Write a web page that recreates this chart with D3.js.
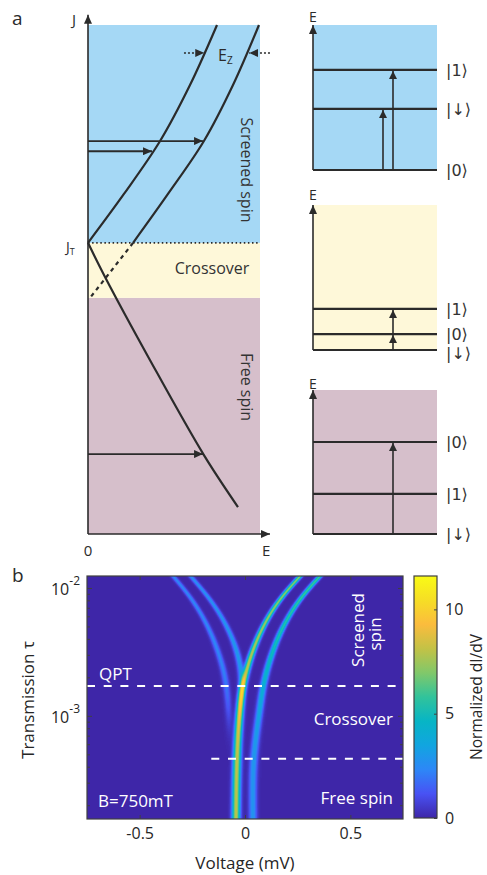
<!DOCTYPE html>
<html>
<head>
<meta charset="utf-8">
<script src="https://cdn.jsdelivr.net/npm/d3@7"></script>
<style>
  body { margin: 0; background: #fff; }
  text { font-family: "Open Sans", "Noto Sans", sans-serif; }
</style>
</head>
<body>
<div id="fig"></div>
<script>
// ---------- data: panel a (schematic, E / J in arbitrary units) ----------
const regionNames  = ["Free spin", "Crossover", "Screened spin"];
const regionBounds = [0, 0.464, 0.572, 1.0];          // J limits of the three regimes
const jT = 0.572;

const screenedLow  = [[0, 0.572], [0.209, 0.668], [0.419, 0.772], [0.593, 0.882], [0.750, 1.0]];
const screenedHigh = [[0.262, 0.572], [0.465, 0.668], [0.674, 0.772], [0.843, 0.882], [0.994, 1.0]];
const crossoverDash = [[0.262, 0.572], [0.012, 0.464]];
const freeSpinLine = [[0, 0.572], [0.099, 0.505], [0.360, 0.342], [0.674, 0.155], [0.872, 0.053]];
const excitations  = [[0.772, 0.669], [0.752, 0.372], [0.157, 0.669]];   // [J, E reached]

// level diagrams (energy as fraction of the box height)
const levelLabels = [["|0⟩", "|↓⟩", "|1⟩"], ["|↓⟩", "|0⟩", "|1⟩"], ["|↓⟩", "|1⟩", "|0⟩"]];
const levelEnergy = [[0, 0.421, 0.69], [0, 0.11, 0.283], [0, 0.278, 0.639]];
const transitions = [[[0, 0.421], [0, 0.69]], [[0, 0.11], [0.11, 0.283]], [[0, 0.639]]];

// ---------- data: panel b (ridges, rows every 0.15 decade) ----------
const tauLog = [-1.9, -2.05, -2.2, -2.35, -2.5, -2.65, -2.8, -2.95, -3.1, -3.25, -3.4, -3.55, -3.7, -3.85];
const ridgeA = [0.266, 0.183, 0.119, 0.071, 0.034, 0.006, -0.015, -0.024, -0.031, -0.036, -0.039, -0.041, -0.042, -0.043];
const ampA   = [7.0, 7.0, 7.2, 7.4, 7.7, 8.0, 8.6, 9.0, 8.6, 8.2, 8.0, 8.0, 8.0, 8.0];
const ridgeB = [0.36, 0.277, 0.214, 0.166, 0.13, 0.102, 0.082, 0.07, 0.057, 0.046, 0.039, 0.037, 0.037, 0.038];
const ampB   = [6.0, 5.8, 5.6, 5.3, 5.0, 4.6, 4.1, 3.6, 3.2, 3.0, 2.9, 2.8, 2.8, 2.8];
const ridgeC = [-0.262, -0.183, -0.119, -0.071, -0.036, -0.018, -0.015, -0.024, -0.031, -0.036, -0.039, -0.041, -0.042, -0.043];
const ampC   = [2.5, 2.6, 2.7, 2.8, 3.0, 3.0, 2.2, 0.6, 0, 0, 0, 0, 0, 0];
const ridgeD = [-0.345, -0.268, -0.208, -0.162, -0.127, -0.1, -0.085, -0.079, -0.074, -0.071, -0.07, -0.07, -0.07, -0.07];
const ampD   = [2.3, 2.3, 2.3, 2.3, 2.3, 2.2, 1.9, 1.2, 0.4, 0, 0, 0, 0, 0];
const widthRows = [0.009, 0.009, 0.009, 0.0095, 0.01, 0.0105, 0.011, 0.0115, 0.012, 0.0125, 0.013, 0.013, 0.013, 0.013];

const tauQPT = 1.71e-3, tauFree = 4.61e-4;
const xTicks = [-0.5, 0, 0.5];
const yMajor = [1e-3, 1e-2];
const cbTicks = [0, 5, 10];
const zMax = 11.6;

const parulaStops  = [0, 0.1, 0.2, 0.3, 0.4, 0.5, 0.6, 0.7, 0.8, 0.9, 1];
const parulaColors = ["#3e26a8", "#4852f4", "#2d87f7", "#11a5e0", "#07b5c5", "#31c39b",
                      "#81c86a", "#c3c246", "#fbbc3d", "#f6de25", "#f9fb15"];

// ---------- setup ----------
const ink = "#2b2b2b";
const svg = d3.select("#fig").append("svg").attr("width", 487).attr("height", 875);
const defs = svg.append("defs");

function marker(id, len, wid) {
  defs.append("marker").attr("id", id)
    .attr("viewBox", "0 0 10 10").attr("preserveAspectRatio", "none")
    .attr("refX", 10).attr("refY", 5)
    .attr("markerWidth", len).attr("markerHeight", wid)
    .attr("markerUnits", "userSpaceOnUse").attr("orient", "auto")
    .append("path").attr("d", "M0,0L10,5L0,10Z").attr("fill", ink);
}
marker("axHead", 9, 8);
marker("hHead", 9, 8);
marker("vHead", 8, 8);

// ---------- panel a, left ----------
const xA = d3.scaleLinear().domain([0, 1]).range([88, 260]);
const yA = d3.scaleLinear().domain([0, 1]).range([534, 25]);
const regionColors = ["#d6bfcb", "#fef8d9", "#a5d8f5"];

const gA = svg.append("g");
gA.selectAll("rect.region").data(regionNames).join("rect")
  .attr("x", xA(0)).attr("width", xA(1) - xA(0))
  .attr("y", (d, i) => yA(regionBounds[i + 1]))
  .attr("height", (d, i) => yA(regionBounds[i]) - yA(regionBounds[i + 1]))
  .attr("fill", (d, i) => regionColors[i]);

gA.append("line").attr("x1", xA(0)).attr("x2", xA(1)).attr("y1", yA(jT)).attr("y2", yA(jT))
  .attr("stroke", ink).attr("stroke-width", 1.6).attr("stroke-dasharray", "1.5,2.6");

const lineA = d3.line().x(d => xA(d[0])).y(d => yA(d[1])).curve(d3.curveCatmullRom);
[screenedLow, screenedHigh, freeSpinLine].forEach(pts => {
  gA.append("path").attr("d", lineA(pts)).attr("fill", "none")
    .attr("stroke", ink).attr("stroke-width", 2.2);
});
gA.append("path").attr("d", lineA(crossoverDash)).attr("fill", "none")
  .attr("stroke", ink).attr("stroke-width", 2.2).attr("stroke-dasharray", "4,4");

excitations.forEach(([j, e]) => {
  gA.append("line").attr("x1", xA(0)).attr("x2", xA(e)).attr("y1", yA(j)).attr("y2", yA(j))
    .attr("stroke", ink).attr("stroke-width", 1.8).attr("marker-end", "url(#hHead)");
});

// axes
gA.append("line").attr("x1", xA(0)).attr("x2", xA(0)).attr("y1", yA(0)).attr("y2", yA(1.02))
  .attr("stroke", ink).attr("stroke-width", 1.6).attr("marker-end", "url(#axHead)");
gA.append("line").attr("x1", xA(0)).attr("x2", xA(1.058)).attr("y1", yA(0)).attr("y2", yA(0))
  .attr("stroke", ink).attr("stroke-width", 1.6).attr("marker-end", "url(#axHead)");

// Zeeman markers
const jZ = 0.945;
gA.append("line").attr("x1", xA(0.558)).attr("x2", xA(0.676)).attr("y1", yA(jZ)).attr("y2", yA(jZ))
  .attr("stroke", ink).attr("stroke-width", 1.6).attr("stroke-dasharray", "2,2").attr("marker-end", "url(#hHead)");
gA.append("line").attr("x1", xA(1.058)).attr("x2", xA(0.937)).attr("y1", yA(jZ)).attr("y2", yA(jZ))
  .attr("stroke", ink).attr("stroke-width", 1.6).attr("stroke-dasharray", "2,2").attr("marker-end", "url(#hHead)");
const ez = gA.append("text").attr("x", 218).attr("y", 61).attr("font-size", 16).attr("fill", ink);
ez.append("tspan").text("E");
ez.append("tspan").attr("font-size", 10).attr("dy", 3).text("Z");

// labels
gA.append("text").attr("x", 12).attr("y", 25).attr("font-size", 19).attr("fill", ink).text("a");
gA.append("text").attr("x", 72).attr("y", 25).attr("font-size", 15).attr("fill", ink).text("J");
const jt = gA.append("text").attr("x", 66).attr("y", 252).attr("font-size", 14).attr("fill", ink);
jt.append("tspan").text("J");
jt.append("tspan").attr("font-size", 9).attr("dy", 3).text("T");
gA.append("text").attr("x", xA(0)).attr("y", 556).attr("font-size", 15).attr("fill", ink)
  .attr("text-anchor", "middle").text("0");
gA.append("text").attr("x", 262).attr("y", 556).attr("font-size", 15).attr("fill", ink).text("E");

gA.append("text").attr("transform", "translate(241,170) rotate(90)").attr("text-anchor", "middle")
  .attr("font-size", 16).attr("fill", "#333").text(regionNames[2]);
gA.append("text").attr("x", 212).attr("y", 274).attr("text-anchor", "middle")
  .attr("font-size", 16).attr("fill", "#333").text(regionNames[1]);
gA.append("text").attr("transform", "translate(241,387) rotate(90)").attr("text-anchor", "middle")
  .attr("font-size", 16).attr("fill", "#333").text(regionNames[0]);

// ---------- panel a, level diagrams ----------
const boxes = [[25, 170, 22], [205, 350, 200], [390, 534, 389]];   // top, bottom, E label baseline
const boxColors = [regionColors[2], regionColors[1], regionColors[0]];
const arrowX = [[383, 393], [393, 393], [393]];
const dx0 = 313, dx1 = 437;

boxes.forEach(([top, bottom, eY], k) => {
  const yE = d3.scaleLinear().domain([0, 1]).range([bottom, top]);
  const g = svg.append("g");
  g.append("rect").attr("x", dx0).attr("y", top).attr("width", dx1 - dx0).attr("height", bottom - top)
    .attr("fill", boxColors[k]);
  g.append("line").attr("x1", dx0).attr("x2", dx0).attr("y1", yE(0)).attr("y2", yE(1))
    .attr("stroke", ink).attr("stroke-width", 1.6).attr("marker-end", "url(#axHead)");
  g.append("text").attr("x", dx0).attr("y", eY).attr("text-anchor", "middle")
    .attr("font-size", 14).attr("fill", ink).text("E");
  levelEnergy[k].forEach((e, i) => {
    g.append("line").attr("x1", dx0).attr("x2", dx1).attr("y1", yE(e)).attr("y2", yE(e))
      .attr("stroke", ink).attr("stroke-width", 2.2);
    const crowded = k === 1 && i === 0;
    g.append("text").attr("x", 446).attr("y", yE(e) + (crowded ? 3 : 0)).attr("dy", "0.35em")
      .attr("font-size", 16).attr("fill", "#333")
      .style("font-family", '"DejaVu Sans", sans-serif')
      .text(levelLabels[k][i]);
  });
  transitions[k].forEach(([e0, e1], i) => {
    g.append("line").attr("x1", arrowX[k][i]).attr("x2", arrowX[k][i])
      .attr("y1", yE(e0)).attr("y2", yE(e1) + 1)
      .attr("stroke", ink).attr("stroke-width", 1.6).attr("marker-end", "url(#vHead)");
  });
});

// ---------- panel b ----------
const bx0 = 87, bx1 = 403, by0 = 576, by1 = 819;
const xB = d3.scaleLinear().domain([-0.75, 0.75]).range([bx0, bx1]);
const yB = d3.scaleLog().domain([1.56e-4, 1.24e-2]).range([by1, by0]);
const parula = d3.scaleLinear().domain(parulaStops).range(parulaColors).interpolate(d3.interpolateRgb).clamp(true);
const lut = d3.range(256).map(i => d3.rgb(parula(i / 255)));

// ridge parameters between the evenly spaced rows follow a smooth basis curve
const rowT = d3.scaleLinear().domain([tauLog[0], tauLog[tauLog.length - 1]]).range([0, 1]).clamp(true);
const rowScale = vals => { const f = d3.interpolateBasis(vals); return lt => f(rowT(lt)); };
const tracks = [[ridgeA, ampA], [ridgeB, ampB], [ridgeC, ampC], [ridgeD, ampD]]
  .map(([p, a]) => ({ pos: rowScale(p), amp: rowScale(a) }));
const widthAt = rowScale(widthRows);

const cw = bx1 - bx0, ch = by1 - by0;
const canvas = document.createElement("canvas");
canvas.width = cw; canvas.height = ch;
const ctx = canvas.getContext("2d");
const img = ctx.createImageData(cw, ch);
for (let r = 0; r < ch; r++) {
  const lt = Math.log10(yB.invert(by0 + r + 0.5));
  const s = widthAt(lt);
  const ps = tracks.map(t => [t.pos(lt), Math.max(0, t.amp(lt))]);
  for (let c = 0; c < cw; c++) {
    const v = xB.invert(bx0 + c + 0.5);
    let z = 0;
    for (const [p, a] of ps) { const u = (v - p) / s; z += a * Math.exp(-0.5 * u * u); }
    const col = lut[Math.round(Math.min(z / zMax, 1) * 255)];
    const o = (r * cw + c) * 4;
    img.data[o] = col.r; img.data[o + 1] = col.g; img.data[o + 2] = col.b; img.data[o + 3] = 255;
  }
}
ctx.putImageData(img, 0, 0);

const gB = svg.append("g");
gB.append("image").attr("x", bx0).attr("y", by0).attr("width", cw).attr("height", ch)
  .attr("preserveAspectRatio", "none").attr("href", canvas.toDataURL());

// dashed phase boundaries
gB.append("line").attr("x1", bx0).attr("x2", bx1).attr("y1", yB(tauQPT)).attr("y2", yB(tauQPT))
  .attr("stroke", "#fff").attr("stroke-width", 2).attr("stroke-dasharray", "8,8.7");
gB.append("line").attr("x1", xB(-0.16)).attr("x2", bx1).attr("y1", yB(tauFree)).attr("y2", yB(tauFree))
  .attr("stroke", "#fff").attr("stroke-width", 2).attr("stroke-dasharray", "8,8.7");

// frame and ticks
const axCol = "#404040";
gB.append("rect").attr("x", bx0).attr("y", by0).attr("width", cw).attr("height", ch)
  .attr("fill", "none").attr("stroke", axCol).attr("stroke-width", 1.2);

const fmt = d => d === 0 ? "0" : String(d);
const xAxis = gB.append("g").attr("transform", `translate(0,${by1})`)
  .call(d3.axisBottom(xB).tickValues(xTicks).tickFormat(fmt).tickSizeInner(-4).tickSizeOuter(0).tickPadding(9));
gB.append("g").attr("transform", `translate(0,${by0})`)
  .call(d3.axisTop(xB).tickValues(xTicks).tickFormat("").tickSizeInner(-4).tickSizeOuter(0));

const yMinor = [];
[1e-4, 1e-3].forEach(b => d3.range(2, 10).forEach(m => { const t = m * b; if (t > 1.56e-4 && t < 1.24e-2) yMinor.push(t); }));
[[d3.axisLeft, bx0], [d3.axisRight, bx1]].forEach(([ax, x]) => {
  gB.append("g").attr("transform", `translate(${x},0)`)
    .call(ax(yB).tickValues(yMinor).tickFormat("").tickSizeInner(-3).tickSizeOuter(0));
  gB.append("g").attr("transform", `translate(${x},0)`)
    .call(ax(yB).tickValues(yMajor).tickFormat("").tickSizeInner(-5).tickSizeOuter(0));
});
gB.selectAll(".domain").remove();
gB.selectAll(".tick line").attr("stroke", axCol);
xAxis.selectAll("text").attr("font-size", 16).attr("fill", "#262626")
  .style("font-family", '"Open Sans", sans-serif');

yMajor.forEach(t => {
  const tx = gB.append("text").attr("x", 80).attr("y", yB(t)).attr("dy", "0.45em")
    .attr("text-anchor", "end").attr("font-size", 16).attr("fill", "#262626");
  tx.append("tspan").text("10");
  tx.append("tspan").attr("font-size", 12).attr("dy", "-0.85em").text(String(Math.round(Math.log10(t))));
});

gB.append("text").attr("transform", `translate(34,700) rotate(-90)`).attr("text-anchor", "middle")
  .attr("font-size", 17).attr("fill", "#262626").text("Transmission τ");
gB.append("text").attr("x", xB(0)).attr("y", 869).attr("text-anchor", "middle")
  .attr("font-size", 17).attr("fill", "#262626").text("Voltage (mV)");
gB.append("text").attr("x", 12).attr("y", 582).attr("font-size", 19).attr("fill", ink).text("b");

// in-map labels
const white = "#fff";
gB.append("text").attr("x", 99).attr("y", 680).attr("font-size", 17).attr("fill", white).text("QPT");
gB.append("text").attr("x", 98).attr("y", 807).attr("font-size", 17).attr("fill", white).text("B=750mT");
gB.append("text").attr("x", 393).attr("y", 725).attr("text-anchor", "end").attr("font-size", 17).attr("fill", white).text("Crossover");
gB.append("text").attr("x", 393).attr("y", 804).attr("text-anchor", "end").attr("font-size", 17).attr("fill", white).text("Free spin");
gB.append("text").attr("transform", "translate(364,630) rotate(-90)").attr("text-anchor", "middle")
  .attr("font-size", 17).attr("fill", white).text("Screened");
gB.append("text").attr("transform", "translate(381,634) rotate(-90)").attr("text-anchor", "middle")
  .attr("font-size", 17).attr("fill", white).text("spin");

// colorbar
const cx0 = 414, cx1 = 437;
const yC = d3.scaleLinear().domain([0, zMax]).range([818, 576]);
const grad = defs.append("linearGradient").attr("id", "cbGrad")
  .attr("x1", 0).attr("y1", 1).attr("x2", 0).attr("y2", 0);
parulaStops.forEach((s, i) => grad.append("stop").attr("offset", s).attr("stop-color", parulaColors[i]));
gB.append("rect").attr("x", cx0).attr("y", yC(zMax)).attr("width", cx1 - cx0).attr("height", yC(0) - yC(zMax))
  .attr("fill", "url(#cbGrad)").attr("stroke", axCol).attr("stroke-width", 1.2);
const cbAxis = gB.append("g").attr("transform", `translate(${cx1},0)`)
  .call(d3.axisRight(yC).tickValues(cbTicks).tickSizeInner(-3).tickSizeOuter(0).tickPadding(8));
cbAxis.select(".domain").remove();
cbAxis.selectAll(".tick line").attr("stroke", axCol);
cbAxis.selectAll("text").attr("font-size", 16).attr("fill", "#262626")
  .style("font-family", '"Open Sans", sans-serif');
gB.append("text").attr("transform", "translate(482,697) rotate(-90)").attr("text-anchor", "middle")
  .attr("font-size", 15.5).attr("fill", "#262626").text("Normalized dI/dV");
</script>
</body>
</html>
